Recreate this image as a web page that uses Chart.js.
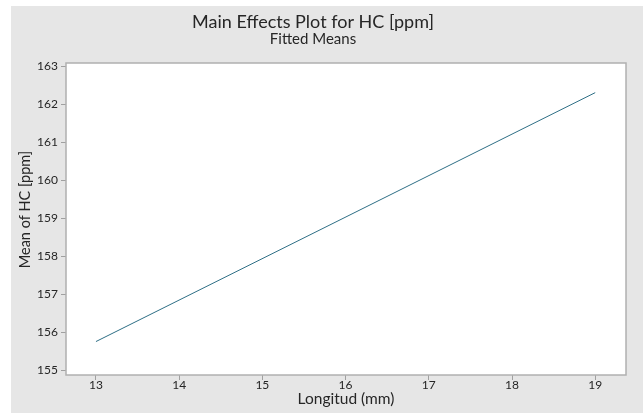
<!DOCTYPE html>
<html>
<head>
<meta charset="utf-8">
<script src="https://cdn.jsdelivr.net/npm/chart.js@4"></script>
<style>
  body { margin: 0; background: #fff; }
  canvas { display: block; }
</style>
</head>
<body>
<canvas id="myChart" width="643" height="415"></canvas>
<script>
// data
const longitud = [13, 19];
const fittedMeans = [155.75, 162.3];
const xTicks = [13, 14, 15, 16, 17, 18, 19];
const yTicks = [155, 156, 157, 158, 159, 160, 161, 162, 163];
const yTitle = "Mean of HC [ppm]";

const textColor = "#262626";
const axisGray = "#b0b0b0";

// gray panel behind everything, white plot area with a frame
const panel = {
  id: "panel",
  beforeDraw: (chart) => {
    const c = chart.ctx;
    const a = chart.chartArea;
    c.save();
    c.fillStyle = "#fff";
    c.fillRect(0, 0, chart.width, chart.height);
    c.fillStyle = "#e6e6e6";
    c.fillRect(11, 6, chart.width - 11, chart.height - 8);
    c.fillStyle = "#fff";
    c.fillRect(a.left, a.top, a.right - a.left, a.bottom - a.top);
    c.restore();
  },
  afterDraw: (chart) => {
    const c = chart.ctx;
    const a = chart.chartArea;
    c.save();
    c.strokeStyle = axisGray;
    c.lineWidth = 1.5;
    c.strokeRect(a.left, a.top, a.right - a.left, a.bottom - a.top);
    // y title is centred on the gray panel, not on the plot area (Minitab style)
    c.translate(25, 209.5);
    c.rotate(-Math.PI / 2);
    c.fillStyle = textColor;
    c.font = "14.5px Lato";
    c.textAlign = "center";
    c.textBaseline = "middle";
    c.fillText(yTitle, 0, 0);
    c.restore();
  },
};

Chart.defaults.font.family = "Lato";
Chart.defaults.color = textColor;

const ctx = document.getElementById("myChart");

const chart = new Chart(ctx, {
  type: "line",
  data: {
    datasets: [
      {
        data: longitud.map((x, i) => ({ x: x, y: fittedMeans[i] })),
        borderColor: "#2e6f86",
        borderWidth: 1,
        pointRadius: 0,
        fill: false,
        tension: 0,
      },
    ],
  },
  options: {
    responsive: false,
    animation: false,
    layout: { padding: { left: 0, right: 17, top: 0, bottom: 0 } },
    plugins: {
      legend: { display: false },
      tooltip: { enabled: false },
      title: {
        display: true,
        text: "Main Effects Plot for HC [ppm]",
        color: textColor,
        font: { size: 18, weight: "normal", lineHeight: 1 },
        padding: { top: 13.5, bottom: 0 },
      },
      subtitle: {
        display: true,
        text: "Fitted Means",
        color: textColor,
        font: { size: 15, weight: "normal", lineHeight: 1 },
        padding: { top: 0.5, bottom: 16 },
      },
    },
    scales: {
      x: {
        type: "linear",
        min: 12.64,
        max: 19.37,
        afterBuildTicks: (s) => {
          s.ticks = xTicks.map((v) => ({ value: v }));
        },
        afterFit: (s) => {
          s.height = 40;
        },
        grid: { drawOnChartArea: false, drawTicks: true, tickLength: 5, color: "#a0a0a0" },
        border: { display: false },
        ticks: { font: { size: 12 }, padding: -2, color: textColor },
        title: {
          display: true,
          text: "Longitud (mm)",
          font: { size: 15.5 },
          padding: { top: 0, bottom: 7 },
        },
      },
      y: {
        min: 154.87,
        max: 163.08,
        afterBuildTicks: (s) => {
          s.ticks = yTicks.map((v) => ({ value: v }));
        },
        afterFit: (s) => {
          s.width = 66;
        },
        grid: { drawOnChartArea: false, drawTicks: true, tickLength: 5, color: "#a0a0a0" },
        border: { display: false },
        ticks: { font: { size: 12 }, padding: 3, color: textColor },
        title: { display: false },
      },
    },
  },
  plugins: [panel],
});
</script>
</body>
</html>
